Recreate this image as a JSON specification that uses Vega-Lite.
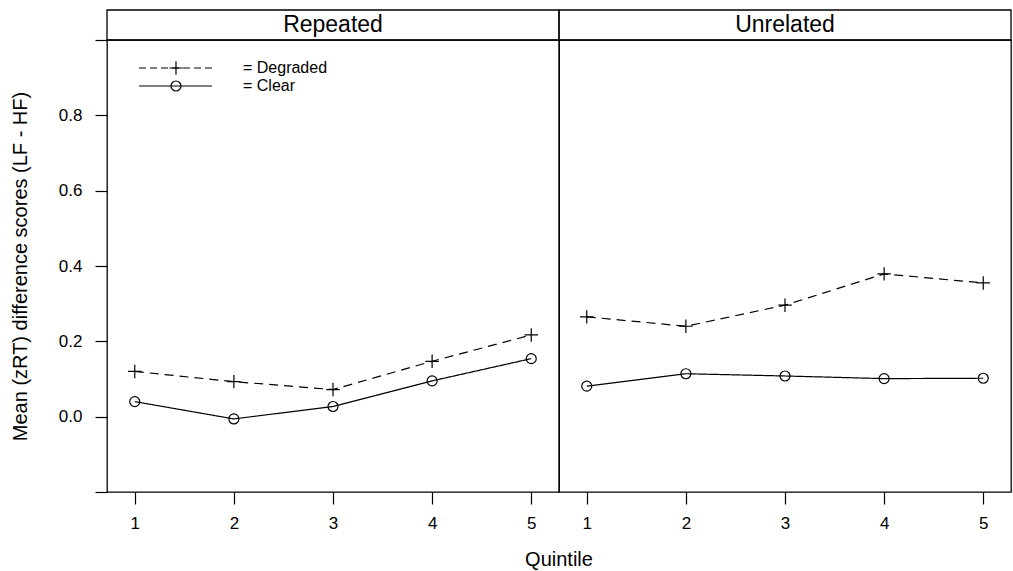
{
  "$schema": "https://vega.github.io/schema/vega-lite/v6.json",
  "padding": {"left": 10, "top": 8, "right": 0, "bottom": 0},
  "bounds": "flush",
  "spacing": 0,
  "config": {
    "font": "Liberation Sans",
    "view": {"stroke": "black", "strokeWidth": 1.3},
    "facet": {"spacing": 0}
  },
  "data": {
    "values": [
      {"condition": "Repeated", "series": "Degraded", "quintile": 1, "value": 0.120},
      {"condition": "Repeated", "series": "Degraded", "quintile": 2, "value": 0.093},
      {"condition": "Repeated", "series": "Degraded", "quintile": 3, "value": 0.072},
      {"condition": "Repeated", "series": "Degraded", "quintile": 4, "value": 0.147},
      {"condition": "Repeated", "series": "Degraded", "quintile": 5, "value": 0.217},
      {"condition": "Repeated", "series": "Clear", "quintile": 1, "value": 0.040},
      {"condition": "Repeated", "series": "Clear", "quintile": 2, "value": -0.006},
      {"condition": "Repeated", "series": "Clear", "quintile": 3, "value": 0.027},
      {"condition": "Repeated", "series": "Clear", "quintile": 4, "value": 0.095},
      {"condition": "Repeated", "series": "Clear", "quintile": 5, "value": 0.154},
      {"condition": "Unrelated", "series": "Degraded", "quintile": 1, "value": 0.265},
      {"condition": "Unrelated", "series": "Degraded", "quintile": 2, "value": 0.240},
      {"condition": "Unrelated", "series": "Degraded", "quintile": 3, "value": 0.296},
      {"condition": "Unrelated", "series": "Degraded", "quintile": 4, "value": 0.379},
      {"condition": "Unrelated", "series": "Degraded", "quintile": 5, "value": 0.355},
      {"condition": "Unrelated", "series": "Clear", "quintile": 1, "value": 0.081},
      {"condition": "Unrelated", "series": "Clear", "quintile": 2, "value": 0.114},
      {"condition": "Unrelated", "series": "Clear", "quintile": 3, "value": 0.108},
      {"condition": "Unrelated", "series": "Clear", "quintile": 4, "value": 0.101},
      {"condition": "Unrelated", "series": "Clear", "quintile": 5, "value": 0.102}
    ]
  },
  "facet": {
    "column": {
      "field": "condition",
      "type": "nominal",
      "header": {
        "labels": false,
        "title": "Quintile",
        "titleOrient": "bottom",
        "titleFontSize": 20,
        "titleFontWeight": "normal",
        "titleColor": "black",
        "titlePadding": 9
      }
    }
  },
  "spec": {
    "width": 452,
    "height": 452,
    "encoding": {
      "x": {
        "field": "quintile",
        "type": "quantitative",
        "scale": {"domain": [0.72, 5.28], "nice": false, "zero": false},
        "axis": {
          "values": [1, 2, 3, 4, 5],
          "format": "d",
          "title": null,
          "domain": false,
          "grid": false,
          "tickSize": 12,
          "tickColor": "black",
          "tickWidth": 1.2,
          "labelFontSize": 17,
          "labelColor": "black",
          "labelPadding": 11,
          "labelFlush": false,
          "labelOverlap": false
        }
      },
      "y": {
        "field": "value",
        "type": "quantitative",
        "scale": {"domain": [-0.2, 1.0], "nice": false, "zero": false},
        "axis": {
          "values": [-0.2, 0, 0.2, 0.4, 0.6, 0.8, 1.0],
          "labelExpr": "datum.value < -0.1 || datum.value > 0.9 ? '' : format(datum.value, '.1f')",
          "title": "Mean (zRT) difference scores (LF - HF)",
          "titleFontSize": 20,
          "titleFontWeight": "normal",
          "titleColor": "black",
          "titlePadding": 28,
          "domain": false,
          "grid": false,
          "tickSize": 12,
          "tickColor": "black",
          "tickWidth": 1.2,
          "labelFontSize": 17,
          "labelColor": "black",
          "labelPadding": 13,
          "labelFlush": false,
          "labelOverlap": false
        }
      }
    },
    "layer": [
      {
        "transform": [{"filter": "datum.quintile == 1 && datum.series == 'Clear'"}],
        "mark": {"type": "rect", "filled": false, "stroke": "black", "strokeWidth": 1.3, "clip": false},
        "encoding": {
          "x": {"datum": 0.72},
          "x2": {"datum": 5.28},
          "y": {"datum": 1.0},
          "y2": {"datum": 1.0797}
        }
      },
      {
        "transform": [{"filter": "datum.quintile == 1 && datum.series == 'Clear'"}],
        "mark": {"type": "text", "fontSize": 23, "color": "black", "baseline": "alphabetic", "align": "center", "clip": false},
        "encoding": {
          "x": {"datum": 3},
          "y": {"datum": 1.0225},
          "text": {"field": "condition", "type": "nominal"}
        }
      },
      {
        "transform": [{"filter": "datum.condition == 'Repeated' && datum.quintile == 1 && datum.series == 'Degraded'"}],
        "mark": {"type": "rule", "color": "black", "strokeWidth": 1.2, "strokeDash": [7, 4]},
        "encoding": {
          "x": {"datum": 1.043},
          "x2": {"datum": 1.779},
          "y": {"datum": 0.9257}
        }
      },
      {
        "transform": [{"filter": "datum.condition == 'Repeated' && datum.quintile == 1 && datum.series == 'Degraded'"}],
        "mark": {"type": "point", "shape": "M-1,0H1M0,-1V1", "size": 180, "filled": false, "color": "black", "strokeWidth": 1.2, "opacity": 1},
        "encoding": {
          "x": {"datum": 1.416},
          "y": {"datum": 0.9257}
        }
      },
      {
        "transform": [{"filter": "datum.condition == 'Repeated' && datum.quintile == 1 && datum.series == 'Degraded'"}],
        "mark": {"type": "text", "text": "= Degraded", "fontSize": 16, "color": "black", "align": "left", "baseline": "middle"},
        "encoding": {
          "x": {"datum": 2.092},
          "y": {"datum": 0.9257}
        }
      },
      {
        "transform": [{"filter": "datum.condition == 'Repeated' && datum.quintile == 1 && datum.series == 'Clear'"}],
        "mark": {"type": "rule", "color": "black", "strokeWidth": 1.2},
        "encoding": {
          "x": {"datum": 1.043},
          "x2": {"datum": 1.779},
          "y": {"datum": 0.8779}
        }
      },
      {
        "transform": [{"filter": "datum.condition == 'Repeated' && datum.quintile == 1 && datum.series == 'Clear'"}],
        "mark": {"type": "point", "shape": "circle", "size": 100, "filled": false, "color": "black", "strokeWidth": 1.2, "opacity": 1},
        "encoding": {
          "x": {"datum": 1.416},
          "y": {"datum": 0.8779}
        }
      },
      {
        "transform": [{"filter": "datum.condition == 'Repeated' && datum.quintile == 1 && datum.series == 'Clear'"}],
        "mark": {"type": "text", "text": "= Clear", "fontSize": 16, "color": "black", "align": "left", "baseline": "middle"},
        "encoding": {
          "x": {"datum": 2.092},
          "y": {"datum": 0.8779}
        }
      },
      {
        "mark": {"type": "line", "color": "black", "strokeWidth": 1.2},
        "encoding": {
          "strokeDash": {
            "field": "series",
            "type": "nominal",
            "scale": {"domain": ["Degraded", "Clear"], "range": [[9, 6], [1, 0]]},
            "legend": null
          }
        }
      },
      {
        "mark": {"type": "point", "filled": false, "color": "black", "strokeWidth": 1.2, "opacity": 1},
        "encoding": {
          "shape": {
            "field": "series",
            "type": "nominal",
            "scale": {"domain": ["Degraded", "Clear"], "range": ["M-1,0H1M0,-1V1", "circle"]},
            "legend": null
          },
          "size": {
            "field": "series",
            "type": "nominal",
            "scale": {"domain": ["Degraded", "Clear"], "range": [180, 100]},
            "legend": null
          }
        }
      }
    ]
  }
}
